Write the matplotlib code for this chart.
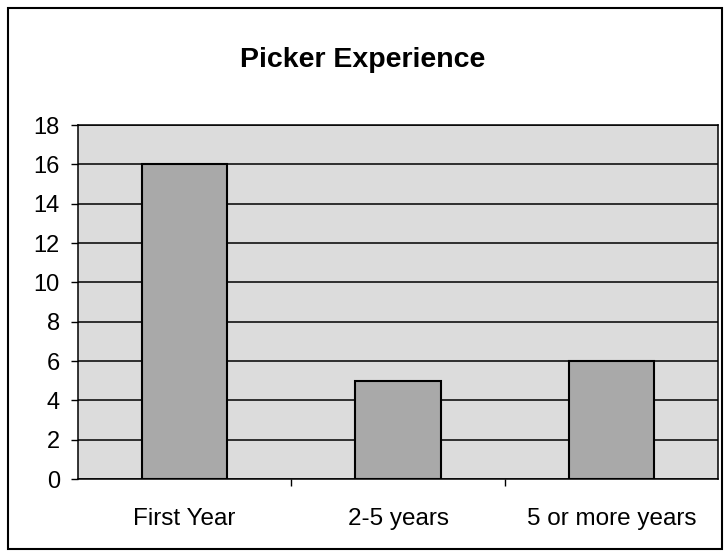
import matplotlib.pyplot as plt
from matplotlib.patches import Rectangle
import numpy as np

# data
categories = ['First Year', '2-5 years', '5 or more years']
counts = [16, 5, 6]
y_ticks = [0, 2, 4, 6, 8, 10, 12, 14, 16, 18]

plt.rcParams['font.family'] = ['Liberation Sans', 'DejaVu Sans']

fig = plt.figure(figsize=(7.25, 5.54), dpi=100)
ax = fig.add_axes([78/725, 75/554, 640/725, 354/554])

x = np.arange(len(categories))
ax.set_facecolor('#dcdcdc')
ax.bar(x, counts, width=0.4, color='#a9a9a9', edgecolor='black', linewidth=1.5, zorder=3)

ax.set_xlim(-0.5, len(categories) - 0.5)
ax.set_ylim(0, 18)
ax.set_yticks(y_ticks)
ax.tick_params(axis='y', labelsize=17, length=5, width=1, direction='out', pad=8)
ax.yaxis.grid(True, color='black', linewidth=1.1, zorder=1)

# category labels centered, ticks between categories
ax.set_xticks(x)
ax.set_xticklabels(categories, fontsize=17.5)
ax.tick_params(axis='x', length=0, pad=21)
ax.set_xticks(np.arange(0.5, len(categories) - 0.5), minor=True)
ax.tick_params(axis='x', which='minor', length=5, width=1, direction='out')

for s in ax.spines.values():
    s.set_color('black')
    s.set_linewidth(1.1)

fig.text(0.5, 1 - 60/554, 'Picker Experience', ha='center', va='center',
         fontsize=20.5, fontweight='bold')

# outer chart border
fig.patches.append(Rectangle((8/725, 5/554), 714/725, 541/554, transform=fig.transFigure,
                             fill=False, edgecolor='black', linewidth=1.5))

fig.savefig('out.png', dpi=100)
